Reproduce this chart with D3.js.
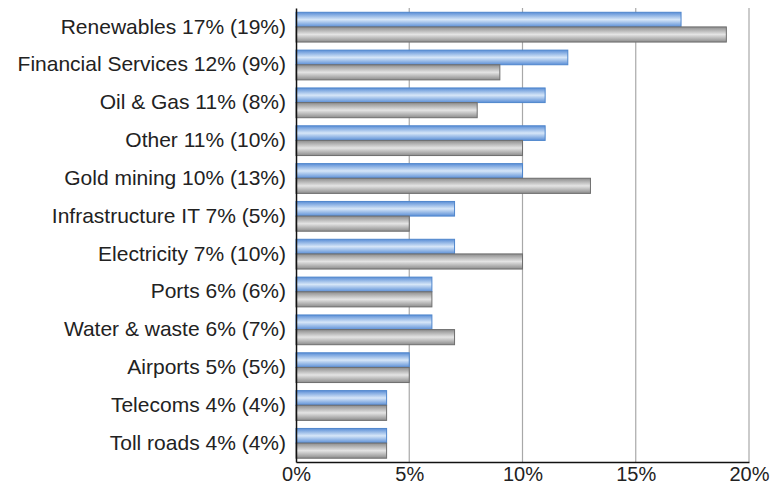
<!DOCTYPE html>
<html><head><meta charset="utf-8">
<script src="https://cdn.jsdelivr.net/npm/d3@7"></script>
<style>body{margin:0;background:#fff}svg{display:block}</style>
</head><body>
<script>
const categories = ["Renewables 17% (19%)","Financial Services 12% (9%)","Oil & Gas 11% (8%)","Other 11% (10%)","Gold mining 10% (13%)","Infrastructure IT 7% (5%)","Electricity 7% (10%)","Ports 6% (6%)","Water & waste 6% (7%)","Airports 5% (5%)","Telecoms 4% (4%)","Toll roads 4% (4%)"];
const currentValues = [17,12,11,11,10,7,7,6,6,5,4,4];
const previousValues = [19,9,8,10,13,5,10,6,7,5,4,4];
const xTicks = [0,5,10,15,20];

const W=773,H=488;
const m={left:296,right:24,top:8,bottom:26};
const svg=d3.select("body").append("svg").attr("width",W).attr("height",H);
const defs=svg.append("defs");
function grad(id,edge,mid){
  const g=defs.append("linearGradient").attr("id",id).attr("x1",0).attr("y1",0).attr("x2",0).attr("y2",1);
  g.append("stop").attr("offset","0%").attr("stop-color",edge);
  g.append("stop").attr("offset","50%").attr("stop-color",mid);
  g.append("stop").attr("offset","100%").attr("stop-color",edge);
}
grad("gBlue","#5a8ed6","#d6e6f8");
grad("gGrey","#8c8c8c","#e4e4e4");

const x=d3.scaleLinear().domain([0,20]).range([m.left,W-m.right]);
const y=d3.scaleBand().domain(categories).range([m.top,H-m.bottom]).paddingInner(0.2).paddingOuter(0.1);
const sub=d3.scaleBand().domain(["cur","prev"]).range([0,y.bandwidth()]);

// grid
svg.append("g").selectAll("line").data(xTicks.slice(1)).join("line")
  .attr("x1",d=>x(d)).attr("x2",d=>x(d)).attr("y1",m.top).attr("y2",H-m.bottom)
  .attr("stroke","#a8a8a8").attr("stroke-width",1.2);

const rows=categories.map((c,i)=>({c,cur:currentValues[i],prev:previousValues[i]}));
svg.append("g").selectAll("rect").data(rows).join("rect")
  .attr("x",x(0)).attr("y",d=>y(d.c)+sub("cur")+0.5).attr("width",d=>x(d.cur)-x(0)).attr("height",sub.bandwidth()-0.5)
  .attr("fill","url(#gBlue)").attr("stroke","#4f86cc").attr("stroke-width",1);
svg.append("g").selectAll("rect").data(rows).join("rect")
  .attr("x",x(0)).attr("y",d=>y(d.c)+sub("prev")).attr("width",d=>x(d.prev)-x(0)).attr("height",sub.bandwidth())
  .attr("fill","url(#gGrey)").attr("stroke","#6e6e6e").attr("stroke-width",1);

// axes
const xAxis=d3.axisBottom(x).tickValues(xTicks).tickFormat(d=>d+"%").tickSize(0).tickPadding(5);
const gx=svg.append("g").attr("transform",`translate(0,${H-m.bottom})`).call(xAxis);
gx.select(".domain").attr("stroke","#111").attr("stroke-width",1.5);
gx.selectAll("text").attr("font-family","Liberation Sans, Arial, sans-serif").attr("font-size",20).attr("fill","#222");

const yAxis=d3.axisLeft(y).tickSize(0).tickPadding(10);
const gy=svg.append("g").attr("transform",`translate(${m.left},0)`).call(yAxis);
gy.select(".domain").attr("stroke","#111").attr("stroke-width",1.5);
gy.selectAll("text").attr("font-family","Liberation Sans, Arial, sans-serif").attr("font-size",21).attr("fill","#222");
</script>
</body></html>
